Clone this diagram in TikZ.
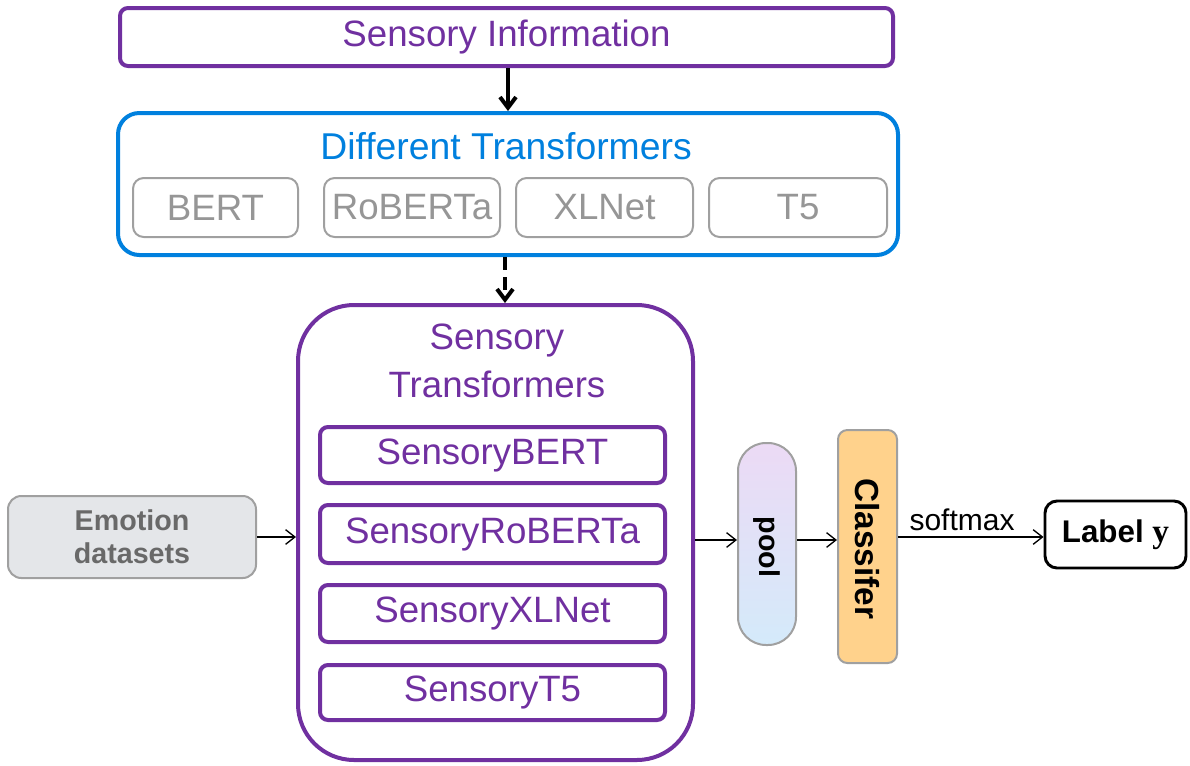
\documentclass[tikz,border=0pt]{standalone}
\usepackage{fontspec}
\setmainfont{Liberation Sans}
\newfontfamily\serifface{Liberation Serif}
\usetikzlibrary{arrows.meta}
\definecolor{sensepurple}{RGB}{112,48,160}
\definecolor{tfblue}{RGB}{0,128,222}
\definecolor{boxgray}{RGB}{160,160,160}
\definecolor{textgray}{RGB}{150,150,150}
\definecolor{datafill}{RGB}{228,230,233}
\definecolor{datatext}{RGB}{105,105,105}
\definecolor{clsfill}{RGB}{255,210,140}
\definecolor{pooltop}{RGB}{236,218,245}
\definecolor{poolbot}{RGB}{212,234,250}
\newcommand{\fs}[1]{\fontsize{#1}{#1}\selectfont}
\tikzset{
  purplebox/.style={draw=sensepurple, line width=3pt, rounded corners=6pt,
    text=sensepurple, font=\fs{27.5}, inner sep=0pt, align=center},
  modelbox/.style={draw=boxgray, line width=1.5pt, rounded corners=8pt,
    text=textgray, font=\fs{27.5}, inner sep=0pt, minimum height=59*0.75pt},
  thinarrow/.style={-{Straight Barb[length=7pt,width=11pt]}, line width=1pt},
  thickarrow/.style={-{Straight Barb[length=8pt,width=12pt]}, line width=3pt},
}
\begin{document}
\begin{tikzpicture}[x=0.75pt,y=-0.75pt]
\useasboundingbox (0,0) rectangle (1190,765);

% top: sensory information
\node[purplebox, minimum width=773*0.75pt, minimum height=58*0.75pt] (info) at (506.5,37) {Sensory Information};

% pretrained transformers
\node[draw=tfblue, line width=3pt, rounded corners=16pt, minimum width=780*0.75pt,
  minimum height=142*0.75pt, inner sep=0pt] (tf) at (508,184) {};
\node[text=tfblue, font=\fs{28}, inner sep=0pt] (tftitle) at (506,146) {Different Transformers};
\node[modelbox, minimum width=165*0.75pt] (bert) at (215.5,207.5) {BERT};
\node[modelbox, minimum width=176*0.75pt] (roberta) at (412,207.5) {RoBERTa};
\node[modelbox, minimum width=177*0.75pt] (xlnet) at (604.5,207.5) {XLNet};
\node[modelbox, minimum width=178*0.75pt] (t5) at (798,207.5) {T5};

% sensory transformers
\node[draw=sensepurple, line width=3pt, rounded corners=42pt, minimum width=395*0.75pt,
  minimum height=455*0.75pt, inner sep=0pt] (st) at (495.5,532.5) {};
\node[text=sensepurple, font=\fs{27.5}, align=center, inner sep=0pt] (sttitle) at (497,361)
  {Sensory\\[8pt]Transformers};
\node[purplebox, minimum width=345*0.75pt, minimum height=56*0.75pt] (sbert) at (492.5,455) {SensoryBERT};
\node[purplebox, minimum width=345*0.75pt, minimum height=58*0.75pt] (sroberta) at (492.5,534) {SensoryRoBERTa};
\node[purplebox, minimum width=345*0.75pt, minimum height=57*0.75pt] (sxlnet) at (492.5,613.5) {SensoryXLNet};
\node[purplebox, minimum width=345*0.75pt, minimum height=55*0.75pt] (st5) at (492.5,692.5) {SensoryT5};

% input data
\node[draw=boxgray, fill=datafill, line width=1.5pt, rounded corners=10pt,
  minimum width=248*0.75pt, minimum height=82*0.75pt, inner sep=0pt,
  text=datatext, font=\fs{21.5}\bfseries, align=center] (data) at (132,537)
  {Emotion\\[3pt]datasets};

% pooling and classifier
\node[draw=boxgray, line width=1.5pt, rounded corners=21pt, top color=pooltop,
  bottom color=poolbot, minimum width=58*0.75pt, minimum height=202*0.75pt,
  inner sep=0pt] (pool) at (767,544) {};
\node[rotate=-90, font=\fs{21.5}\bfseries, inner sep=0pt] (pooltext) at (767,547) {pool};
\node[draw=boxgray, fill=clsfill, line width=1.5pt, rounded corners=7pt,
  minimum width=59*0.75pt, minimum height=233*0.75pt, inner sep=0pt] (cls) at (867.5,546.5) {};
\node[rotate=-90, font=\fs{25}\bfseries, inner sep=0pt] (clstext) at (867.5,549) {Classifer};

% output label
\node[draw=black, line width=2.2pt, rounded corners=9pt, minimum width=141*0.75pt,
  minimum height=67*0.75pt, inner sep=0pt, font=\fs{23.5}\bfseries] (label) at (1115.5,534.5)
  {Label {\serifface\fs{25}\bfseries y}};

% connectors
\draw[thickarrow] (info.south -| 508,0) -- (tf.north -| 508,0);
\draw[thickarrow, dash pattern=on 10pt off 5pt] (tf.south -| 505,0) -- (st.north -| 505,0);
\draw[thinarrow] (data.east) -- (data.east -| st.west);
\draw[thinarrow] (st.east |- 0,540) -- (pool.west |- 0,540);
\draw[thinarrow] (pool.east |- 0,540) -- (cls.west |- 0,540);
\draw[thinarrow] (cls.east |- 0,537) -- node[pos=0.44, above, font=\fs{22.5}, inner sep=4pt] {softmax} (label.west |- 0,537);
\end{tikzpicture}
\end{document}
